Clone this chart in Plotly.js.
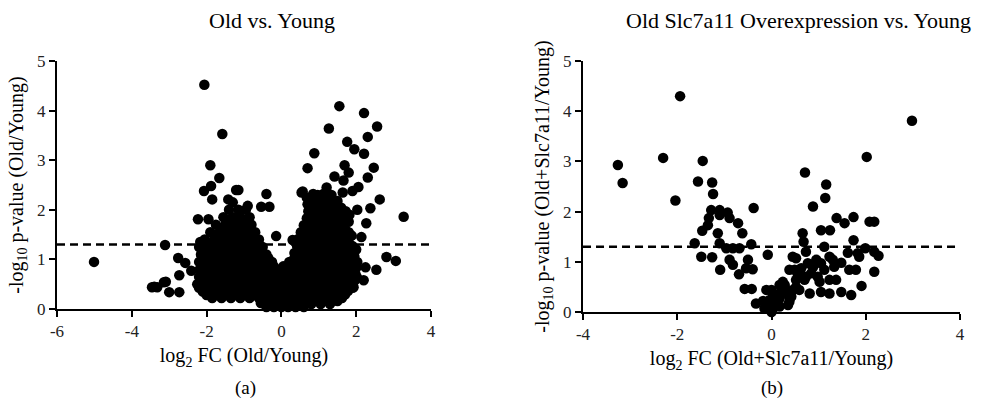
<!DOCTYPE html>
<html>
<head>
<meta charset="utf-8">
<script src="https://cdn.plot.ly/plotly-3.0.1.min.js"></script>
<style>html,body{margin:0;padding:0;background:#fff;}#chart{width:988px;height:398px;}</style>
</head>
<body>
<div id="chart"></div>
<script>
// Panel (a): Old vs. Young  [log2FC, -log10 p]
const oldVsYoung = [
  [-2.06,4.52],[-1.58,3.53],[-1.90,2.90],[-1.66,2.64],[-1.88,2.48],[-2.07,2.38],[-1.15,2.40],[-0.40,2.32],[-1.42,2.21],[-1.85,2.21],
  [1.55,4.09],[2.21,3.95],[1.27,3.64],[2.56,3.68],[2.31,3.47],[1.76,3.37],[1.95,3.22],[2.21,3.13],[0.88,3.14],[0.70,2.84],
  [1.69,2.90],[2.47,2.85],[1.80,2.75],[1.42,2.67],[2.31,2.65],[1.66,2.59],[0.54,2.35],[1.21,2.45],[2.06,2.46],[1.64,2.35],
  [1.90,2.38],[2.63,2.21],[0.97,2.30],[1.34,2.30],[-1.21,2.40],[-0.90,2.08],
  [-5.01,0.95],[-3.11,1.29],[3.27,1.86],[3.06,0.97],[2.81,1.05],[2.54,0.79],[2.25,0.84],[2.20,0.58],[2.38,2.03],[2.03,2.00],
  [2.27,1.73],[2.14,1.45],[2.03,0.95],[1.93,0.44],[-0.14,1.47],[0.21,0.95],[-0.54,2.06],[-0.32,2.06],[-2.23,1.81],[-1.95,1.81],
  [-2.17,1.35],[-2.76,1.03],[-2.57,0.93],[-2.73,0.68],[-2.41,0.77],[-3.46,0.44],[-3.32,0.44],[-3.14,0.54],[-3.00,0.34],[-2.73,0.34],
  [0.57,2.37],[0.30,1.39],[-3.40,0.45],[-3.09,0.55],[1.96,0.58],
  // left lobe
  [-1.85,0.22],[-1.60,0.22],[-1.35,0.22],[-1.10,0.22],[-0.85,0.22],[-0.60,0.22],[-0.35,0.22],[-0.15,0.22],
  [-2.00,0.28],[-1.72,0.28],[-1.48,0.28],[-1.22,0.28],[-0.98,0.28],[-0.72,0.28],[-0.48,0.28],[-0.28,0.28],[-0.05,0.28],
  [-2.10,0.35],[-1.90,0.35],[-1.70,0.35],[-1.45,0.35],[-1.20,0.35],[-0.95,0.35],[-0.70,0.35],[-0.45,0.35],[-0.25,0.35],
  [-2.20,0.43],[-1.95,0.43],[-1.60,0.43],[-1.35,0.43],[-1.10,0.43],[-0.85,0.43],[-0.60,0.43],[-0.38,0.43],[-0.18,0.43],
  [-2.25,0.50],[-2.00,0.50],[-1.78,0.50],[-1.55,0.50],[-1.30,0.50],[-1.05,0.50],[-0.80,0.50],[-0.55,0.50],[-0.32,0.50],[-0.10,0.50],
  [-2.10,0.58],[-1.85,0.58],[-1.62,0.58],[-1.38,0.58],[-1.12,0.58],[-0.88,0.58],[-0.62,0.58],[-0.40,0.58],[-0.12,0.58],
  [-2.20,0.65],[-1.95,0.65],[-1.72,0.65],[-1.48,0.65],[-1.22,0.65],[-0.98,0.65],[-0.72,0.65],[-0.48,0.65],[-0.22,0.65],
  [-2.05,0.73],[-1.82,0.73],[-1.58,0.73],[-1.35,0.73],[-1.10,0.73],[-0.85,0.73],[-0.60,0.73],[-0.35,0.73],
  [-2.18,0.80],[-1.92,0.80],[-1.68,0.80],[-1.42,0.80],[-1.18,0.80],[-0.92,0.80],[-0.68,0.80],[-0.42,0.80],[-0.18,0.80],
  [-2.05,0.88],[-1.80,0.88],[-1.55,0.88],[-1.30,0.88],[-1.05,0.88],[-0.80,0.88],[-0.55,0.88],[-0.32,0.88],
  [-2.20,0.95],[-1.95,0.95],[-1.70,0.95],[-1.45,0.95],[-1.20,0.95],[-0.95,0.95],[-0.70,0.95],[-0.45,0.95],[-0.25,0.95],
  [-2.08,1.03],[-1.82,1.03],[-1.58,1.03],[-1.32,1.03],[-1.08,1.03],[-0.82,1.03],[-0.58,1.03],[-0.35,1.03],
  [-2.15,1.10],[-1.90,1.10],[-1.65,1.10],[-1.40,1.10],[-1.15,1.10],[-0.90,1.10],[-0.65,1.10],[-0.40,1.10],
  [-2.00,1.18],[-1.78,1.18],[-1.52,1.18],[-1.28,1.18],[-1.02,1.18],[-0.78,1.18],[-0.55,1.18],
  [-2.20,1.25],[-1.98,1.25],[-1.72,1.25],[-1.48,1.25],[-1.22,1.25],[-0.98,1.25],[-0.72,1.25],[-0.50,1.25],
  [-2.10,1.33],[-1.85,1.33],[-1.60,1.33],[-1.35,1.33],[-1.10,1.33],[-0.85,1.33],[-0.62,1.33],
  [-2.05,1.40],[-1.80,1.40],[-1.55,1.40],[-1.30,1.40],[-1.05,1.40],[-0.80,1.40],[-0.60,1.40],
  [-1.75,1.48],[-1.50,1.48],[-1.25,1.48],[-1.00,1.48],[-0.78,1.48],
  [-1.90,1.55],[-1.65,1.55],[-1.40,1.55],[-1.15,1.55],[-0.90,1.55],[-0.70,1.55],
  [-1.60,1.63],[-1.38,1.63],[-1.12,1.63],[-0.90,1.63],
  [-1.75,1.70],[-1.50,1.70],[-1.25,1.70],[-1.00,1.70],[-0.80,1.70],
  [-1.40,1.78],[-1.20,1.78],[-0.95,1.78],
  [-1.55,1.85],[-1.30,1.85],[-1.10,1.85],[-0.85,1.85],
  [-1.40,2.00],[-1.15,2.00],[-0.95,2.00],[-1.30,2.15],
  // centre
  [-0.40,0.04],[-0.20,0.04],[0.00,0.04],[0.18,0.04],[0.38,0.04],[0.60,0.04],
  [-0.55,0.12],[-0.05,0.12],[0.10,0.12],[0.28,0.12],
  [-0.30,0.20],[0.05,0.20],[0.20,0.20],[0.45,0.20],
  [-0.05,0.28],[0.12,0.28],[0.05,0.42],[0.20,0.42],[-0.05,0.50],[0.12,0.50],[0.00,0.58],[0.18,0.58],
  [0.08,0.65],[-0.05,0.72],[0.10,0.72],[0.00,0.80],[0.05,0.86],[-0.20,0.86],
  // right lobe
  [0.55,0.10],[0.80,0.10],[1.05,0.10],[1.30,0.10],
  [0.30,0.16],[0.52,0.16],[0.78,0.16],[1.02,0.16],[1.28,0.16],[1.50,0.16],
  [0.40,0.22],[0.65,0.22],[0.90,0.22],[1.15,0.22],[1.40,0.22],[1.62,0.22],
  [0.25,0.29],[0.50,0.29],[0.75,0.29],[1.00,0.29],[1.25,0.29],[1.50,0.29],[1.70,0.29],
  [0.32,0.36],[0.55,0.36],[0.80,0.36],[1.05,0.36],[1.30,0.36],[1.55,0.36],[1.78,0.36],
  [0.22,0.43],[0.45,0.43],[0.70,0.43],[0.95,0.43],[1.20,0.43],[1.45,0.43],[1.68,0.43],[1.90,0.43],
  [0.35,0.50],[0.60,0.50],[0.85,0.50],[1.10,0.50],[1.35,0.50],[1.60,0.50],[1.85,0.50],
  [0.22,0.57],[0.48,0.57],[0.72,0.57],[0.98,0.57],[1.22,0.57],[1.48,0.57],[1.72,0.57],[1.95,0.57],
  [0.30,0.64],[0.52,0.64],[0.78,0.64],[1.02,0.64],[1.28,0.64],[1.52,0.64],[1.78,0.64],[2.02,0.64],
  [0.25,0.71],[0.50,0.71],[0.75,0.71],[1.00,0.71],[1.25,0.71],[1.50,0.71],[1.75,0.71],[1.98,0.71],
  [0.38,0.78],[0.62,0.78],[0.88,0.78],[1.12,0.78],[1.38,0.78],[1.62,0.78],[1.88,0.78],
  [0.28,0.85],[0.52,0.85],[0.78,0.85],[1.02,0.85],[1.28,0.85],[1.52,0.85],[1.78,0.85],[2.02,0.85],
  [0.40,0.92],[0.65,0.92],[0.90,0.92],[1.15,0.92],[1.40,0.92],[1.65,0.92],[1.90,0.92],
  [0.32,0.99],[0.58,0.99],[0.82,0.99],[1.08,0.99],[1.32,0.99],[1.58,0.99],[1.82,0.99],
  [0.45,1.06],[0.70,1.06],[0.95,1.06],[1.20,1.06],[1.45,1.06],[1.70,1.06],[1.95,1.06],
  [0.35,1.13],[0.62,1.13],[0.88,1.13],[1.12,1.13],[1.38,1.13],[1.62,1.13],[1.88,1.13],
  [0.50,1.20],[0.75,1.20],[1.00,1.20],[1.25,1.20],[1.50,1.20],[1.75,1.20],[2.00,1.20],
  [0.42,1.27],[0.68,1.27],[0.92,1.27],[1.18,1.27],[1.42,1.27],[1.68,1.27],[1.90,1.27],
  [0.55,1.34],[0.80,1.34],[1.05,1.34],[1.30,1.34],[1.55,1.34],[1.80,1.34],
  [0.45,1.41],[0.72,1.41],[0.98,1.41],[1.22,1.41],[1.48,1.41],[1.72,1.41],
  [0.62,1.48],[0.88,1.48],[1.12,1.48],[1.38,1.48],[1.62,1.48],[1.88,1.48],
  [0.52,1.55],[0.78,1.55],[1.02,1.55],[1.28,1.55],[1.52,1.55],[1.80,1.55],
  [0.65,1.62],[0.90,1.62],[1.15,1.62],[1.40,1.62],[1.70,1.62],
  [0.60,1.69],[0.85,1.69],[1.10,1.69],[1.35,1.69],[1.62,1.69],
  [0.72,1.76],[0.98,1.76],[1.22,1.76],[1.48,1.76],[1.80,1.76],
  [0.68,1.83],[0.92,1.83],[1.15,1.83],[1.42,1.83],[1.68,1.83],
  [0.78,1.90],[1.02,1.90],[1.28,1.90],[1.55,1.90],[1.82,1.90],
  [0.72,1.97],[0.95,1.97],[1.20,1.97],[1.45,1.97],[1.72,1.97],
  [0.82,2.04],[1.08,2.04],[1.32,2.04],[1.60,2.04],
  [0.70,2.11],[0.95,2.11],[1.18,2.11],[1.42,2.11],
  [0.78,2.18],[1.05,2.18],[1.30,2.18],[1.50,2.18],
  [0.68,2.25],[0.98,2.25],[1.22,2.25],[0.85,2.32],[1.12,2.32]
];

// Panel (b): Old Slc7a11 Overexpression vs. Young  [log2FC, -log10 p]
const oeVsYoung = [
  [-3.26,2.93],[-3.16,2.57],[-2.30,3.07],[-1.94,4.30],[-2.04,2.22],[-1.46,3.01],[-1.56,2.60],[-1.26,2.58],[-1.24,2.35],
  [-0.38,2.07],[-1.63,1.37],[-1.49,1.10],[-1.26,1.09],[-1.47,1.62],[-1.35,1.73],[-1.28,2.03],[-1.10,2.03],[-1.33,1.87],
  [-1.14,1.57],[-1.10,1.93],[-0.93,1.98],[-0.89,1.87],[-0.71,1.77],[-0.62,1.57],[-1.10,1.37],[-0.96,1.27],[-0.82,1.27],
  [-0.68,1.27],[-0.43,1.35],[-0.08,1.14],[-0.89,1.04],[-0.82,0.94],[-0.50,1.04],[-0.54,0.87],[-0.40,0.85],[-1.09,0.84],
  [-0.69,0.75],[-0.57,0.46],[-0.42,0.46],[-0.33,0.17],[-0.11,0.44],[0.00,0.44],[0.00,0.00],[-0.11,0.14],[-0.18,0.22],
  [-0.15,0.07],[-0.04,0.24],[0.03,0.07],[0.03,0.37],[0.10,0.24],[0.17,0.11],[0.17,0.27],[0.20,0.40],[0.17,0.54],
  [0.28,0.54],[0.38,0.31],[0.35,0.14],[0.42,0.31],[0.45,0.44],[0.59,0.44],[0.52,0.64],[0.49,0.84],[0.56,0.74],
  [0.38,0.84],[0.24,0.60],[0.31,0.37],[0.52,0.50],[0.38,0.21],
  [0.66,1.57],[0.68,1.40],[0.73,1.20],[0.52,1.07],[0.45,1.10],[0.71,2.78],[0.88,2.10],[1.14,2.27],[1.16,2.54],
  [2.02,3.09],[2.98,3.81],
  [1.05,1.63],[1.24,1.63],[1.12,1.30],[1.23,1.10],[1.38,1.87],[1.55,1.77],[1.74,1.89],[2.08,1.80],[2.18,1.80],
  [1.74,1.43],[1.62,1.18],[1.86,1.10],[1.99,1.27],[2.18,1.20],[2.27,1.12],[2.18,0.80],[1.91,0.52],[1.69,0.34],
  [1.48,0.40],[1.23,0.37],[1.05,0.40],[0.81,0.37],[0.59,0.84],[0.88,0.89],[1.05,0.97],[1.33,0.90],[1.65,0.84],
  [1.79,0.84],[1.48,0.98],[0.73,0.70],[0.98,0.70],[1.23,0.64],[1.37,0.64],[0.77,0.97],[0.95,1.04],[0.84,0.77],
  [1.02,0.60],[0.63,0.87],[0.70,0.64],[1.12,0.84],[1.30,1.04],[1.83,1.17]
];

const threshold = 1.3; // -log10(0.05)
const xTicksA = [-6,-4,-2,0,2,4];
const xTicksB = [-4,-2,0,2,4];
const yTicks = [0,1,2,3,4,5];
const label = v => String(v); // plain hyphen-minus, as in the reference

const serif = "'Liberation Serif', 'Times New Roman', Times, serif";
const marker = {size: 10.5, color: '#000'};

const traces = [
  {x: oldVsYoung.map(p=>p[0]), y: oldVsYoung.map(p=>p[1]), type:'scatter', mode:'markers', marker, cliponaxis:false, xaxis:'x', yaxis:'y', hoverinfo:'skip'},
  {x: [xTicksA[0], xTicksA[xTicksA.length-1]], y: [threshold, threshold], type:'scatter', mode:'lines', line:{color:'#000', width:2.5, dash:'8px,5px'}, xaxis:'x', yaxis:'y', hoverinfo:'skip'},
  {x: oeVsYoung.map(p=>p[0]), y: oeVsYoung.map(p=>p[1]), type:'scatter', mode:'markers', marker, cliponaxis:false, xaxis:'x2', yaxis:'y2', hoverinfo:'skip'},
  {x: [xTicksB[0], xTicksB[xTicksB.length-1]], y: [threshold, threshold], type:'scatter', mode:'lines', line:{color:'#000', width:2.5, dash:'8px,5px'}, xaxis:'x2', yaxis:'y2', hoverinfo:'skip'}
];

const axisBase = {
  showline:true, linecolor:'#000', linewidth:2, ticks:'outside', ticklen:6, tickwidth:2, tickcolor:'#000',
  showgrid:false, zeroline:false, tickfont:{family:serif, size:17, color:'#222'}, fixedrange:true
};

const layout = {
  width:988, height:398, margin:{l:0,r:0,t:0,b:0}, paper_bgcolor:'#fff', plot_bgcolor:'#fff', showlegend:false,
  font:{family:serif, color:'#000'},
  xaxis: Object.assign({}, axisBase, {domain:[0.0577,0.4362], range:[-6,4], tickvals:xTicksA, ticktext:xTicksA.map(label), anchor:'y',
    title:{text:'log<sub>2</sub> FC (Old/Young)', font:{family:serif, size:20, color:'#000'}, standoff:8}}),
  yaxis: Object.assign({}, axisBase, {domain:[0.2236,0.8467], range:[0,5], tickvals:yTicks, ticktext:yTicks.map(label), anchor:'x',
    title:{text:'-log<sub>10</sub> p-value (Old/Young)', font:{family:serif, size:20, color:'#000'}, standoff:8}}),
  xaxis2: Object.assign({}, axisBase, {domain:[0.5901,0.9717], range:[-4,4], tickvals:xTicksB, ticktext:xTicksB.map(label), anchor:'y2',
    title:{text:'log<sub>2</sub> FC (Old+Slc7a11/Young)', font:{family:serif, size:20, color:'#000'}, standoff:8}}),
  yaxis2: Object.assign({}, axisBase, {domain:[0.2161,0.8467], range:[0,5], tickvals:yTicks, ticktext:yTicks.map(label), anchor:'x2',
    title:{text:'-log<sub>10</sub> p-value (Old+Slc7a11/Young)', font:{family:serif, size:20, color:'#000'}, standoff:8}}),
  annotations:[
    {text:'Old vs. Young', xref:'paper', yref:'paper', x:0.2753, y:0.9497, xanchor:'center', yanchor:'middle', showarrow:false, font:{family:serif, size:22, color:'#000'}},
    {text:'Old Slc7a11 Overexpression vs. Young', xref:'paper', yref:'paper', x:0.8077, y:0.9497, xanchor:'center', yanchor:'middle', showarrow:false, font:{family:serif, size:22, color:'#000'}},
    {text:'(a)', xref:'paper', yref:'paper', x:0.248, y:0.0251, xanchor:'center', yanchor:'middle', showarrow:false, font:{family:serif, size:19, color:'#000'}},
    {text:'(b)', xref:'paper', yref:'paper', x:0.7814, y:0.0251, xanchor:'center', yanchor:'middle', showarrow:false, font:{family:serif, size:19, color:'#000'}}
  ]
};

Plotly.newPlot('chart', traces, layout, {staticPlot:true, displayModeBar:false});
</script>
</body>
</html>
